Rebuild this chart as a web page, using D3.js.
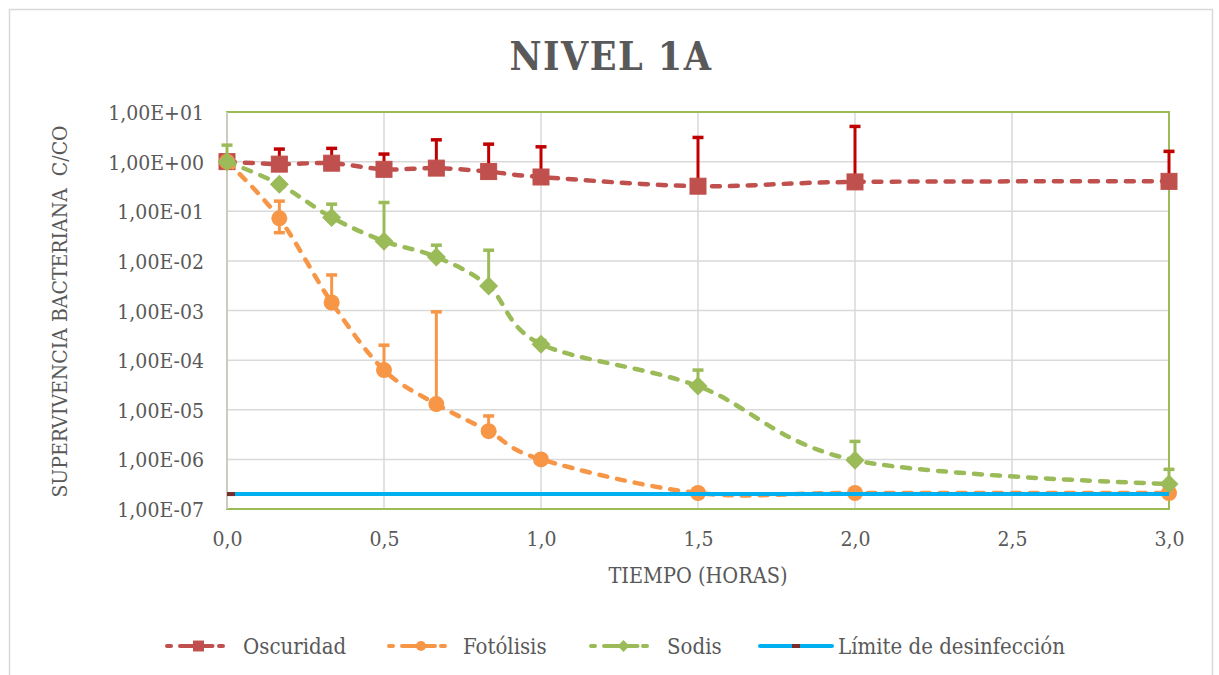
<!DOCTYPE html>
<html>
<head>
<meta charset="utf-8">
<script src="https://cdn.jsdelivr.net/npm/d3@7"></script>
<style>
  html, body { margin: 0; padding: 0; background: #ffffff; }
  svg { display: block; }
  text { font-family: "DejaVu Serif Condensed", "DejaVu Serif", serif; font-stretch: condensed; fill: #595959; }
</style>
</head>
<body>
<svg id="chart" width="1219" height="675"></svg>
<script>
// ---------- data ----------
const times = [0, 0.1667, 0.3333, 0.5, 0.6667, 0.8333, 1.0, 1.5, 2.0, 3.0];

const oscuridad      = [1.0, 0.89, 0.93, 0.70, 0.74, 0.63, 0.49, 0.32, 0.39, 0.40];
const oscuridadErrUp = [null, 1.79, 1.85, 1.42, 2.75, 2.25, 1.99, 3.07, 5.12, 1.61];
const oscuridadErrDn = [null, null, null, null, null, null, null, null, null, null];

const fotolisis      = [1.0, 0.072, 1.45e-3, 6.3e-5, 1.3e-5, 3.7e-6, 1.0e-6, 2.1e-7, 2.1e-7, 2.1e-7];
const fotolisisErrUp = [null, 0.16, 5.2e-3, 2.0e-4, 9.4e-4, 7.5e-6, null, null, null, null];
const fotolisisErrDn = [null, 0.037, null, null, null, null, null, null, null, null];

const sodis      = [1.0, 0.35, 0.075, 0.025, 0.012, 3.1e-3, 2.1e-4, 3.0e-5, 9.6e-7, 3.2e-7];
const sodisErrUp = [2.15, null, 0.139, 0.150, 0.0207, 0.0164, 2.5e-4, 6.3e-5, 2.3e-6, 6.3e-7];
const sodisErrDn = [null, null, null, null, null, null, null, null, null, null];

const limiteTimes = [0, 3];
const limite      = [2e-7, 2e-7];

const yTickValues = [1e1, 1e0, 1e-1, 1e-2, 1e-3, 1e-4, 1e-5, 1e-6, 1e-7];
const yTickLabels = ["1,00E+01", "1,00E+00", "1,00E-01", "1,00E-02", "1,00E-03", "1,00E-04", "1,00E-05", "1,00E-06", "1,00E-07"];
const xTickValues = [0, 0.5, 1.0, 1.5, 2.0, 2.5, 3.0];
const xTickLabels = ["0,0", "0,5", "1,0", "1,5", "2,0", "2,5", "3,0"];

const title = "NIVEL 1A";
const xTitle = "TIEMPO (HORAS)";
const yTitle = "SUPERVIVENCIA BACTERIANA  C/CO";
const seriesNames = ["Oscuridad", "Fotólisis", "Sodis", "Límite de desinfección"];

// ---------- layout ----------
const svg = d3.select("#chart");
const plot = { left: 227, right: 1169, top: 112, bottom: 509 };
const x = d3.scaleLinear().domain([0, 3]).range([plot.left, plot.right]);
const y = d3.scaleLog().domain([1e-7, 10]).range([plot.bottom, plot.top]);

const COL = {
  osc: "#C0504D", oscErr: "#C00000",
  fot: "#F79646",
  sod: "#9BBB59",
  lim: "#00B0F0", limMark: "#7B2B2B",
  grid: "#D9D9D9", text: "#595959"
};

// outer chart border
svg.append("rect").attr("x", 9.5).attr("y", 9.5).attr("width", 1203).attr("height", 680)
  .attr("fill", "#fff").attr("stroke", "#D9D9D9").attr("stroke-width", 1.5);

// title
svg.append("text").attr("x", 611).attr("y", 70).attr("text-anchor", "middle")
  .style("font-size", "39px").style("font-weight", "bold").style("letter-spacing", "1.5px")
  .text(title);

// gridlines
const g = svg.append("g");
g.selectAll("line.hg").data(yTickValues).join("line")
  .attr("x1", plot.left).attr("x2", plot.right)
  .attr("y1", d => y(d)).attr("y2", d => y(d))
  .attr("stroke", COL.grid).attr("stroke-width", 1.5);
g.selectAll("line.vg").data(xTickValues).join("line")
  .attr("y1", plot.top).attr("y2", plot.bottom)
  .attr("x1", d => x(d)).attr("x2", d => x(d))
  .attr("stroke", COL.grid).attr("stroke-width", 1.5);

// plot border
svg.append("rect").attr("x", plot.left).attr("y", plot.top)
  .attr("width", plot.right - plot.left).attr("height", plot.bottom - plot.top)
  .attr("fill", "none").attr("stroke", COL.sod).attr("stroke-width", 2);
svg.append("line").attr("x1", plot.left).attr("x2", plot.left)
  .attr("y1", plot.top).attr("y2", plot.bottom)
  .attr("stroke", "#C9CCBE").attr("stroke-width", 2);

// axes tick labels
const yAxis = d3.axisLeft(y).tickValues(yTickValues)
  .tickFormat((d, i) => yTickLabels[i]).tickSize(0).tickPadding(23);
const yAx = svg.append("g").attr("transform", `translate(${plot.left},0)`).call(yAxis);
yAx.select(".domain").remove();
yAx.selectAll("text").style("font-size", "21px").attr("fill", COL.text)
  .style("font-family", '"DejaVu Serif Condensed", "DejaVu Serif", serif').attr("dy", "0.36em");

const xAxis = d3.axisBottom(x).tickValues(xTickValues)
  .tickFormat((d, i) => xTickLabels[i]).tickSize(0).tickPadding(22);
const xAx = svg.append("g").attr("transform", `translate(0,${plot.bottom})`).call(xAxis);
xAx.select(".domain").remove();
xAx.selectAll("text").style("font-size", "21px").attr("fill", COL.text)
  .style("font-family", '"DejaVu Serif Condensed", "DejaVu Serif", serif');

// axis titles
svg.append("text").attr("x", x(1.5)).attr("y", 583).attr("text-anchor", "middle")
  .style("font-size", "21.5px").text(xTitle);
svg.append("text").attr("transform", `translate(67,${(plot.top + plot.bottom) / 2 + 1}) rotate(-90)`)
  .attr("text-anchor", "middle").style("font-size", "21px").style("white-space", "pre")
  .attr("xml:space", "preserve").text(yTitle);

// ---------- series ----------
const curve = d3.curveCardinal.tension(0);
const dash = "8,10";

function drawSeries(vals, errUp, errDn, color, errColor, marker) {
  const s = svg.append("g");
  const pts = times.map((t, i) => [x(t), y(vals[i])]);
  // error bars
  times.forEach((t, i) => {
    const cx = x(t), cy = y(vals[i]);
    const ends = [];
    if (errUp[i] != null) ends.push(y(errUp[i]));
    if (errDn[i] != null) ends.push(y(errDn[i]));
    ends.forEach(ey => {
      s.append("line").attr("x1", cx).attr("x2", cx).attr("y1", cy).attr("y2", ey)
        .attr("stroke", errColor).attr("stroke-width", 3);
      s.append("line").attr("x1", cx - 5.5).attr("x2", cx + 5.5).attr("y1", ey).attr("y2", ey)
        .attr("stroke", errColor).attr("stroke-width", 3.5);
    });
  });
  // line
  s.append("path").attr("d", d3.line().curve(curve)(pts))
    .attr("fill", "none").attr("stroke", color).attr("stroke-width", 4.5)
    .attr("stroke-dasharray", dash).attr("stroke-linecap", "round");
  // markers
  pts.forEach(p => drawMarker(s, marker, p[0], p[1], color, 1));
}

function drawMarker(s, type, cx, cy, color, k) {
  if (type === "square") {
    const h = 8 * k;
    s.append("rect").attr("x", cx - h).attr("y", cy - h).attr("width", 2 * h).attr("height", 2 * h)
      .attr("fill", color).attr("stroke", color).attr("stroke-width", 1);
  } else if (type === "circle") {
    s.append("circle").attr("cx", cx).attr("cy", cy).attr("r", 8 * k).attr("fill", color);
  } else if (type === "diamond") {
    const h = 9.5 * k;
    s.append("path").attr("d", `M${cx},${cy - h}L${cx + h},${cy}L${cx},${cy + h}L${cx - h},${cy}Z`)
      .attr("fill", color);
  }
}

drawSeries(oscuridad, oscuridadErrUp, oscuridadErrDn, COL.osc, COL.oscErr, "square");
drawSeries(fotolisis, fotolisisErrUp, fotolisisErrDn, COL.fot, COL.fot, "circle");
drawSeries(sodis, sodisErrUp, sodisErrDn, COL.sod, COL.sod, "diamond");

// limit line
svg.append("defs").append("clipPath").attr("id", "plotclip").append("rect")
  .attr("x", plot.left).attr("y", plot.top).attr("width", plot.right - plot.left).attr("height", plot.bottom - plot.top);
const lim = svg.append("g");
lim.append("path").attr("d", d3.line()(limiteTimes.map((t, i) => [x(t), y(limite[i])])))
  .attr("fill", "none").attr("stroke", COL.lim).attr("stroke-width", 4);
lim.append("g").attr("clip-path", "url(#plotclip)").selectAll("rect")
  .data(limiteTimes.slice(0, 1)).join("rect")
  .attr("x", (d) => x(d) - 8).attr("y", (d, i) => y(limite[i]) - 2)
  .attr("width", 16).attr("height", 4).attr("fill", COL.limMark);

// ---------- legend ----------
const legY = 646;
const legendItems = [
  { name: seriesNames[0], color: COL.osc, marker: "square", x0: 165, x1: 232, tx: 243 },
  { name: seriesNames[1], color: COL.fot, marker: "circle", x0: 387, x1: 455, tx: 463 },
  { name: seriesNames[2], color: COL.sod, marker: "diamond", x0: 589, x1: 658, tx: 667 },
  { name: seriesNames[3], color: COL.lim, marker: "lim", x0: 760, x1: 832, tx: 838 }
];
const leg = svg.append("g");
legendItems.forEach(it => {
  const mid = (it.x0 + it.x1) / 2;
  if (it.marker === "lim") {
    leg.append("line").attr("x1", it.x0).attr("x2", it.x1).attr("y1", legY).attr("y2", legY)
      .attr("stroke", it.color).attr("stroke-width", 4).attr("stroke-linecap", "round");
    leg.append("rect").attr("x", mid - 4).attr("y", legY - 2).attr("width", 8).attr("height", 4)
      .attr("fill", COL.limMark);
  } else {
    leg.append("line").attr("x1", it.x0 + 2).attr("x2", it.x1 - 2).attr("y1", legY).attr("y2", legY)
      .attr("stroke", it.color).attr("stroke-width", 4).attr("stroke-linecap", "round")
      .attr("stroke-dasharray", "4,9");
    leg.append("line").attr("x1", mid - 14).attr("x2", mid + 14).attr("y1", legY).attr("y2", legY)
      .attr("stroke", it.color).attr("stroke-width", 4).attr("stroke-linecap", "round");
    drawMarker(leg, it.marker, mid, legY, it.color, 0.62);
  }
  leg.append("text").attr("x", it.tx).attr("y", legY + 8).style("font-size", "22px").text(it.name);
});
</script>
</body>
</html>
